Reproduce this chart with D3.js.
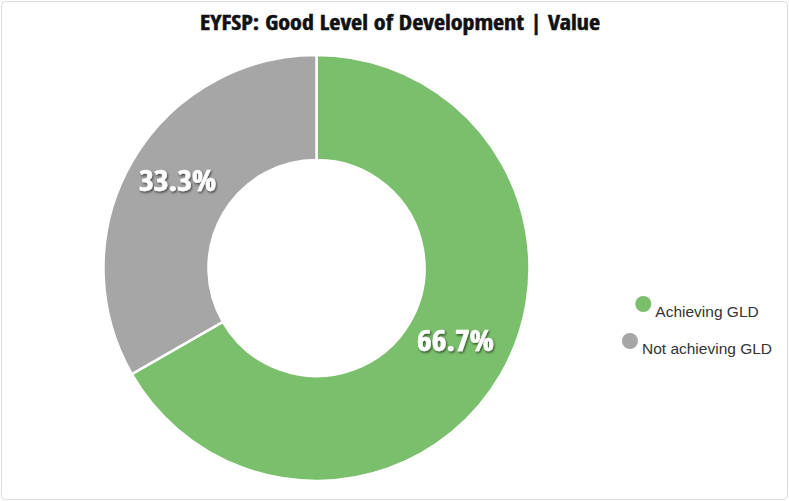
<!DOCTYPE html>
<html>
<head>
<meta charset="utf-8">
<script src="https://cdn.jsdelivr.net/npm/d3@7"></script>
<style>
  body { margin: 0; background: #fff; }
  svg { display: block; }
</style>
</head>
<body>
<div id="chart"></div>
<script>
// Chart data
let categories = ['Achieving GLD', 'Not achieving GLD'];
let values = [66.7, 33.3];
let colors = ['#7abf6b', '#a6a6a6'];
let titleText = 'EYFSP: Good Level of Development | Value';

let svgWidth = 789;
let svgHeight = 501;

let svg = d3.select('#chart')
    .append('svg')
    .attr('width', svgWidth)
    .attr('height', svgHeight);

// card border
svg.append('rect')
    .attr('x', 1.5).attr('y', 1.5)
    .attr('width', svgWidth - 3).attr('height', svgHeight - 3)
    .attr('rx', 4)
    .attr('fill', '#fff')
    .attr('stroke', '#dcdcdc');

// shadow for labels
let defs = svg.append('defs');
let shadow = defs.append('filter').attr('id', 'shadow')
    .attr('x', '-20%').attr('y', '-20%').attr('width', '140%').attr('height', '140%');
shadow.append('feDropShadow')
    .attr('dx', 1).attr('dy', 1.5).attr('stdDeviation', 1.2)
    .attr('flood-color', '#000').attr('flood-opacity', 0.6);

// title
svg.append('text')
    .attr('x', 400)
    .attr('y', 30)
    .attr('text-anchor', 'middle')
    .attr('font-family', '"Open Sans Condensed", "Roboto Condensed", "Open Sans", sans-serif')
    .attr('font-weight', 'bold')
    .attr('font-size', 21)
    .attr('fill', '#111')
    .attr('stroke', '#111')
    .attr('stroke-width', 0.5)
    .attr('textLength', 400)
    .attr('lengthAdjust', 'spacingAndGlyphs')
    .text(titleText);

let cx = 316.5, cy = 268;
let outerR = 213, innerR = 108;

let pie = d3.pie().sort(null).value(d => d);
let arc = d3.arc().innerRadius(innerR).outerRadius(outerR);

let g = svg.append('g').attr('transform', `translate(${cx}, ${cy})`);

let arcs = pie(values);

g.selectAll('path')
    .data(arcs)
    .enter()
    .append('path')
    .attr('d', arc)
    .attr('fill', (d, i) => colors[i])
    .attr('stroke', '#fff')
    .attr('stroke-width', 2.5);

g.selectAll('text.lbl')
    .data(arcs)
    .enter()
    .append('text')
    .attr('class', 'lbl')
    .attr('transform', d => {
        let c = arc.centroid(d);
        return `translate(${c[0]}, ${c[1]})`;
    })
    .attr('text-anchor', 'middle')
    .attr('dy', '0.1em')
    .attr('font-family', '"Open Sans Condensed", "Roboto Condensed", "Open Sans", sans-serif')
    .attr('font-weight', 'bold')
    .attr('font-size', 29)
    .attr('fill', '#fff')
    .attr('stroke', '#fff')
    .attr('stroke-width', 0.6)
    .attr('textLength', 77)
    .attr('lengthAdjust', 'spacingAndGlyphs')
    .attr('filter', 'url(#shadow)')
    .text(d => d.data.toFixed(1) + '%');

// legend
let legend = svg.append('g').attr('transform', 'translate(697, 0)');
let legendY = [317, 354];

categories.forEach(function(cat, i) {
    let item = legend.append('g');
    let t = item.append('text')
        .attr('y', legendY[i])
        .attr('font-family', '"Liberation Sans", Arial, sans-serif')
        .attr('font-size', 15.5)
        .attr('fill', '#333')
        .text(cat);
    let w = t.node().getComputedTextLength();
    let total = w + 20;
    t.attr('x', -total / 2 + 20);
    item.append('circle')
        .attr('cx', -total / 2 + 8)
        .attr('cy', legendY[i] - 13)
        .attr('r', 8)
        .attr('fill', colors[i]);
});
</script>
</body>
</html>
